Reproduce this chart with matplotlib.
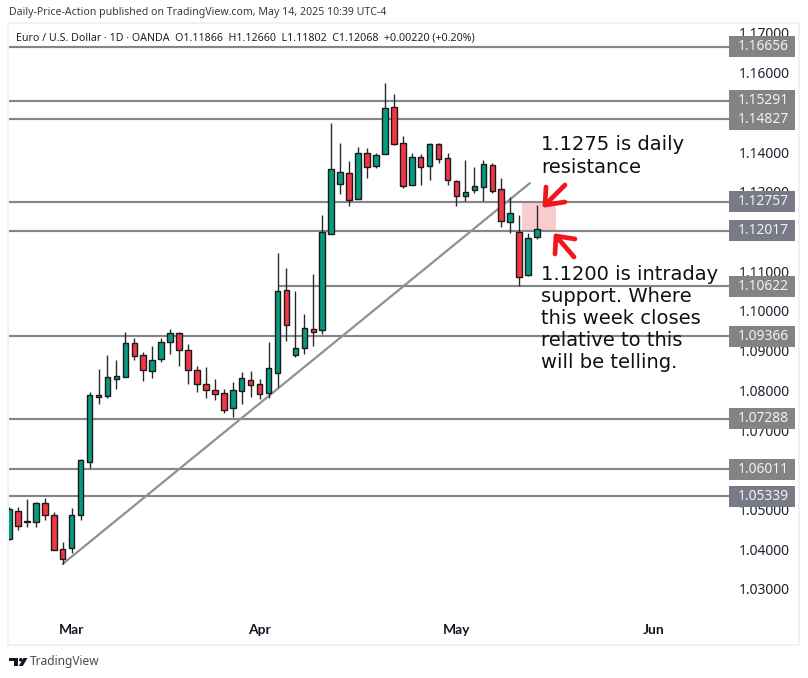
import matplotlib
matplotlib.use("Agg")
import matplotlib.pyplot as plt
from matplotlib.patches import Rectangle, Polygon, Circle

# ---- data -------------------------------------------------------------
opens = [1.0426,1.0496,1.0469,1.0469,1.0517,1.0486,1.0401,1.0403,1.0486,1.0620,
         1.0788,1.0786,1.0829,1.0834,1.0919,1.0889,1.0849,1.0879,1.0922,1.0945,
         1.0902,1.0851,1.0816,1.0801,1.0794,1.0756,1.0799,1.0826,1.0816,1.0794,
         1.0844,1.1053,1.0889,1.0907,1.0955,1.0952,1.1194,1.1320,1.1347,1.1282,
         1.1398,1.1365,1.1395,1.1514,1.1423,1.1317,1.1388,1.1365,1.1421,1.1385,
         1.1327,1.1290,1.1305,1.1312,1.1368,1.1307,1.1224,1.1199,1.1091,1.11866]
highs = [1.0506,1.0506,1.0527,1.0519,1.0529,1.0494,1.0418,1.0504,1.0627,1.0796,
         1.0854,1.0889,1.0877,1.0947,1.0932,1.0897,1.0912,1.0932,1.0955,1.0947,
         1.0917,1.0861,1.0859,1.0829,1.0804,1.0821,1.0846,1.0849,1.0829,1.0922,
         1.1146,1.1108,1.1050,1.0992,1.1093,1.1242,1.1473,1.1423,1.1378,1.1413,
         1.1410,1.1398,1.1574,1.1546,1.1441,1.1398,1.1395,1.1423,1.1423,1.1398,
         1.1330,1.1380,1.1363,1.1380,1.1373,1.1335,1.1287,1.1242,1.1196,1.12660]
lows  = [1.0423,1.0449,1.0456,1.0456,1.0474,1.0398,1.0363,1.0391,1.0474,1.0605,
         1.0766,1.0781,1.0804,1.0834,1.0877,1.0824,1.0831,1.0872,1.0892,1.0861,
         1.0816,1.0796,1.0781,1.0776,1.0743,1.0733,1.0766,1.0783,1.0778,1.0781,
         1.0809,1.0924,1.0884,1.0892,1.0912,1.0942,1.1194,1.1295,1.1264,1.1282,
         1.1335,1.1360,1.1395,1.1418,1.1310,1.1317,1.1317,1.1330,1.1373,1.1317,
         1.1264,1.1277,1.1297,1.1277,1.1297,1.1212,1.1196,1.1063,1.1088,1.11802]
closes= [1.0501,1.0459,1.0470,1.0517,1.0486,1.0398,1.0376,1.0486,1.0625,1.0788,
         1.0783,1.0834,1.0836,1.0919,1.0887,1.0851,1.0877,1.0922,1.0945,1.0902,
         1.0851,1.0816,1.0801,1.0791,1.0751,1.0801,1.0831,1.0814,1.0791,1.0856,
         1.1050,1.0965,1.0907,1.0957,1.0947,1.1199,1.1358,1.1350,1.1279,1.1398,
         1.1363,1.1393,1.1511,1.1421,1.1315,1.1388,1.1363,1.1421,1.1383,1.1330,
         1.1290,1.1300,1.1315,1.1370,1.1302,1.1227,1.1247,1.1086,1.1184,1.12068]

level_prices = [1.16656,1.15291,1.14827,1.12757,1.12017,1.10622,1.09366,1.07288,1.06011,1.05339]
level_labels = ["1.16656","1.15291","1.14827","1.12757","1.12017","1.10622","1.09366","1.07288","1.06011","1.05339"]
level_starts = [0,0,0,0,0,30,0,0,0,0]
level_blue   = [False,False,False,True,True,False,False,False,False,True]

y_ticks = [1.03,1.04,1.05,1.07,1.08,1.09,1.10,1.11,1.13,1.14,1.16,1.17]
y_tick_labels = ["%.5f" % v for v in y_ticks]
month_pos = [7,28,50,72]
month_labels = ["Mar","Apr","May","Jun"]

trend_idx = [6,58.2]
trend_price = [1.0363,1.1322]
zone_idx = [57.3,61.1]
zone_price = [1.12017,1.12757]

title_text = "Daily-Price-Action published on TradingView.com, May 14, 2025 10:39 UTC-4"
legend_text = "Euro / U.S. Dollar · 1D · OANDA  O1.11866  H1.12660  L1.11802  C1.12068  +0.00220 (+0.20%)"
note_top = ["1.1275 is daily","resistance"]
note_bot = ["1.1200 is intraday","support. Where","this week closes","relative to this","will be telling."]

# ---- layout -----------------------------------------------------------
W,H = 808,678
UP,DOWN = "#089981","#F23645"
LINE = "#85868c"
UI = "Noto Sans"
fig = plt.figure(figsize=(W/100,H/100),dpi=100,facecolor="white")
top_px,bot_px,left_px,right_px = 24,643,9,729
ax = fig.add_axes([left_px/W,1-bot_px/H,(right_px-left_px)/W,(bot_px-top_px)/H])
ax.set_xlim(0,(right_px-left_px)/8.95)
ax.set_ylim(1.17-(bot_px-33)*0.0002518,1.17+(33-top_px)*0.0002518)
for s in ax.spines.values():
    s.set_visible(False)

ax.add_patch(Rectangle((zone_idx[0],zone_price[0]),zone_idx[1]-zone_idx[0],zone_price[1]-zone_price[0],
                       facecolor="#f9cdcd",edgecolor="none",zorder=1))
for p,s in zip(level_prices,level_starts):
    ax.hlines(p,s,ax.get_xlim()[1],color=LINE,lw=1.55,zorder=1.5)
ax.plot(trend_idx,trend_price,color="#8f8f96",lw=1.6,zorder=1.6,solid_capstyle="round")

for i,(o,h,l,c) in enumerate(zip(opens,highs,lows,closes)):
    col = UP if c>=o else DOWN
    ax.vlines(i,l,h,color="#2a2a2a",lw=1.0,zorder=2)
    ax.bar(i,abs(c-o) if abs(c-o)>1e-4 else 1e-4,bottom=min(o,c),width=0.62,color=col,
           edgecolor="#1a1a1a",lw=1.0,zorder=3)

ax.yaxis.tick_right()
ax.set_yticks(y_ticks,y_tick_labels,fontsize=10,family=UI,color="#1e222d")
ax.tick_params(axis="y",length=0,pad=7)
ax.set_xticks(month_pos,month_labels,fontsize=10,family="Lato",fontweight="bold",color="#131722")
ax.tick_params(axis="x",length=0,pad=-9)
for lab in ax.get_xticklabels():
    lab.set_verticalalignment("center")

# ---- overlay in pixel units: annotations, price tags, frame -----------
ov = fig.add_axes([0,0,1,1],facecolor="none")
ov.set_xlim(0,W); ov.set_ylim(H,0); ov.axis("off")
ov.add_patch(Rectangle((8,23),791,622,fill=False,edgecolor="#f0f0f2",lw=1.3))

y_of = lambda p: 33+(1.17-p)/0.0002518
for p,t,b in zip(level_prices,level_labels,level_blue):
    c = "#787b86" if b else "#838383"
    py = y_of(p)
    ov.add_patch(Rectangle((729,py-10.5),66,21,facecolor=c,edgecolor="none",zorder=4))
    ov.text(763,py,t,color="#f2f2f2",ha="center",va="center",fontsize=10,family=UI,zorder=5)

ov.text(9,13,title_text,fontsize=7.6,family=UI,color="#3a3a3a",va="center")
ov.text(16,38,legend_text,fontsize=7.7,family=UI,color="#222222",va="center")

for j,t in enumerate(note_top):
    ov.text(541,145+22.5*j,t,fontsize=14,color="#111111",va="center",zorder=6)
for j,t in enumerate(note_bot):
    ov.text(541,275+22*j,t,fontsize=14,color="#111111",va="center",zorder=6)

RED="#f5141c"
for path in ([(565,185),(545,205)],[(546,187),(545,205),(565,202)],
             [(574,257),(556,236)],[(555,254),(556,236),(575,239)]):
    xs,ys = zip(*path)
    ov.plot(xs,ys,color=RED,lw=3.4,solid_capstyle="round",solid_joinstyle="round",zorder=6)

# TradingView mark and word
LOGO="#131722"
ov.add_patch(Polygon([(9,658),(18,658),(18,666),(14,666),(14,661),(9,661)],facecolor=LOGO,edgecolor="none"))
ov.add_patch(Circle((20.8,659.8),1.8,facecolor=LOGO,edgecolor="none"))
ov.add_patch(Polygon([(23.5,658),(27.5,658),(22.8,666),(18.8,666)],facecolor=LOGO,edgecolor="none"))
ov.text(30,662,"TradingView",fontsize=8.6,family=UI,color="#4a4a4a",va="center")

fig.savefig("out.png",dpi=100)
